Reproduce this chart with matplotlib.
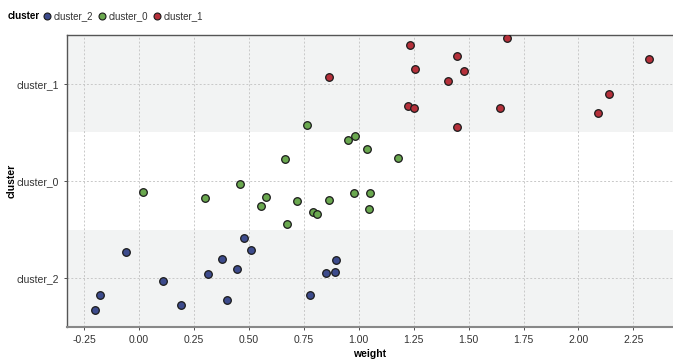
import matplotlib
matplotlib.use("Agg")
import matplotlib.pyplot as plt
from matplotlib.lines import Line2D

plt.rcParams['font.family'] = ['Liberation Sans', 'DejaVu Sans']

# categories, bottom to top on the y axis
categories = ["cluster_2", "cluster_0", "cluster_1"]
legend_order = ["cluster_2", "cluster_0", "cluster_1"]
colors = {"cluster_2": "#3d4b8c", "cluster_0": "#6aa84f", "cluster_1": "#b5303a"}

# weight values and jittered vertical positions (category index + jitter)
c2_weight = [0.48, 0.51, -0.06, 0.377, 0.447, 0.314, 0.109, -0.177, -0.199,
             0.192, 0.40, 0.777, 0.895, 0.851, 0.89]
c2_pos = [0.41, 0.29, 0.27, 0.20, 0.09, 0.04, -0.03, -0.18, -0.33,
          -0.28, -0.23, -0.17, 0.19, 0.05, 0.06]

c0_weight = [0.765, 0.664, 0.953, 0.985, 1.038, 1.177, 0.459, 0.021, 0.30,
             0.58, 0.556, 0.72, 0.865, 0.79, 0.81, 0.674, 0.977, 1.05, 1.047]
c0_pos = [1.58, 1.23, 1.42, 1.46, 1.33, 1.24, 0.97, 0.89, 0.82,
          0.84, 0.74, 0.79, 0.80, 0.68, 0.66, 0.56, 0.88, 0.88, 0.71]

c1_weight = [0.864, 1.235, 1.673, 1.447, 2.32, 1.256, 1.48, 1.408, 2.138,
             1.223, 1.25, 1.644, 2.088, 1.447]
c1_pos = [2.07, 2.40, 2.47, 2.29, 2.26, 2.15, 2.13, 2.03, 1.90,
          1.77, 1.75, 1.75, 1.70, 1.56]

series = {
    "cluster_2": (c2_weight, c2_pos),
    "cluster_0": (c0_weight, c0_pos),
    "cluster_1": (c1_weight, c1_pos),
}

xticks = [-0.25, 0.0, 0.25, 0.5, 0.75, 1.0, 1.25, 1.5, 1.75, 2.0, 2.25]

fig = plt.figure(figsize=(6.73, 3.61), dpi=100)
ax = fig.add_axes([67 / 673, 34 / 361, 606 / 673, 292 / 361])

# alternating background bands
for i, cat in enumerate(categories):
    if i % 2 == 0:
        ax.axhspan(i - 0.5, i + 0.5, color="#f2f3f3", zorder=0, lw=0)

for cat, (xs, ys) in series.items():
    ax.scatter(xs, ys, s=30, color=colors[cat], edgecolor="#1a1a1a",
               linewidth=0.9, zorder=3)

ax.set_xlim(-0.327, 2.43)
ax.set_ylim(-0.505, 2.505)
ax.set_xticks(xticks)
ax.set_xticklabels([f"{t:.2f}" for t in xticks])
ax.set_yticks(range(len(categories)))
ax.set_yticklabels(categories)
ax.grid(True, color="#c8c8c8", linestyle=(0, (2, 2)), linewidth=0.7, zorder=1)
ax.set_axisbelow(True)
ax.tick_params(labelsize=7.5, colors="#333333", length=2, width=0.6)

for side in ["top", "left"]:
    ax.spines[side].set_color("#555555")
    ax.spines[side].set_linewidth(1.0)
ax.spines["bottom"].set_color("#888888")
ax.spines["bottom"].set_linewidth(1.5)
ax.spines["right"].set_visible(False)

ax.set_xlabel("weight", fontsize=7.5, fontweight="bold", labelpad=3)
ax.set_ylabel("cluster", fontsize=7.5, fontweight="bold")
ax.yaxis.set_label_coords(-50 / 606, 0.5)

# legend across the top
fig.text(8 / 673, 1 - 16 / 361, "cluster", fontsize=7, fontweight="bold",
         va="center", ha="left")
handles = [Line2D([], [], marker="o", linestyle="", markersize=5,
                  markerfacecolor=colors[c], markeredgecolor="#1a1a1a",
                  markeredgewidth=0.8) for c in legend_order]
fig.legend(handles, legend_order, loc="center left",
           bbox_to_anchor=(38 / 673, 1 - 16 / 361), ncol=3, frameon=False,
           fontsize=7, handlelength=0.8, handletextpad=0.3,
           columnspacing=0.5, borderpad=0, labelcolor="#333333")

fig.savefig("out.png", dpi=100)
